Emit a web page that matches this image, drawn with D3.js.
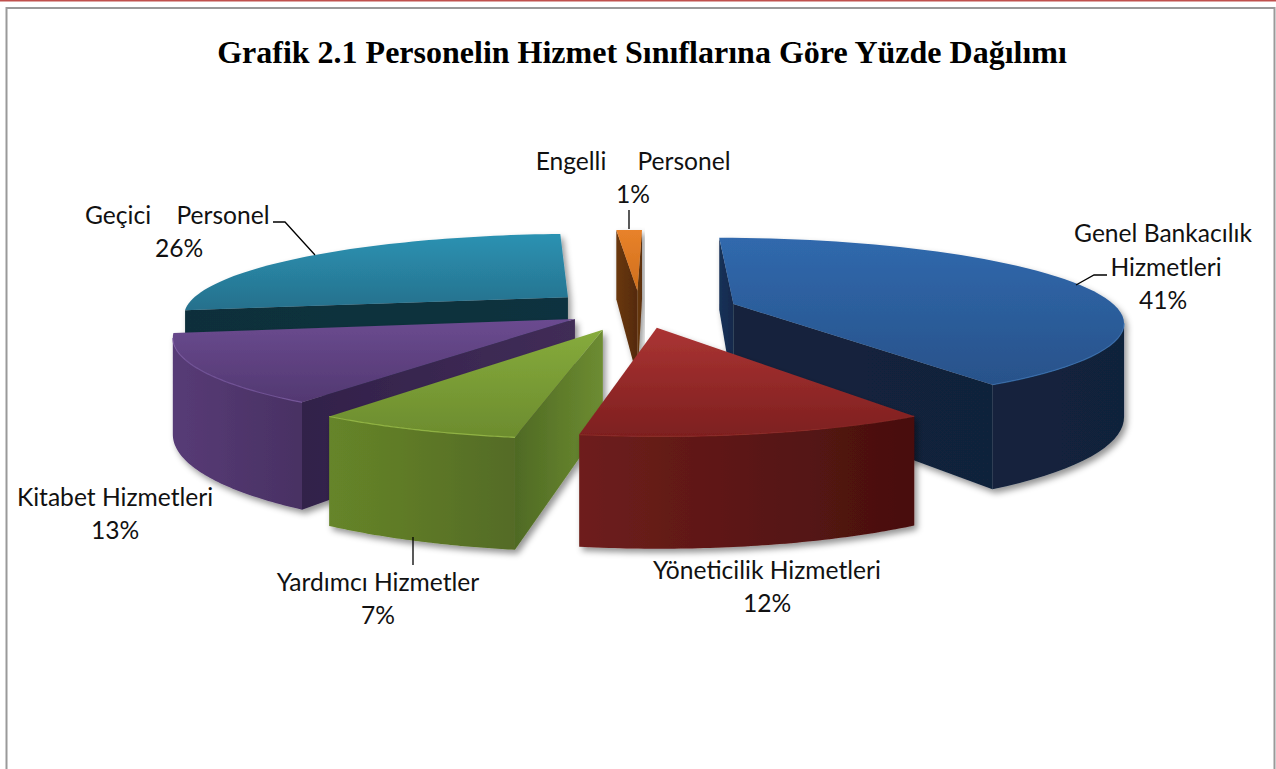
<!DOCTYPE html>
<html><head><meta charset="utf-8">
<script src="https://cdn.jsdelivr.net/npm/d3@7/dist/d3.min.js"></script>
<style>html,body{margin:0;padding:0;background:#fff;overflow:hidden}svg{display:block}</style>
</head><body>
<svg id="c" width="1276" height="769"></svg>
<script>
const titleText = "Grafik 2.1 Personelin Hizmet Sınıflarına Göre Yüzde Dağılımı";
const categories = ["Genel Bankacılık Hizmetleri","Yöneticilik Hizmetleri","Yardımcı Hizmetler","Kitabet Hizmetleri","Geçici Personel","Engelli Personel"];
const values = [40.5,12.0,7.1,12.7,26.3,1.4];
const explosions = [0.25,0.2,0.235,0.19,0.24,0.23];
const topColors  = [["#3069ad","#28528a"],["#ab3433","#7d1f1f"],["#86ab3c","#6c8c2e"],["#6b4b90","#523871"],["#2b92b2","#26708c"],["#e8822a","#d06f1c"]];
const rimColors  = [["#13243e","#11223a"],["#6e1e1c","#480f0e"],["#668529","#546b25"],["#573b76","#493163"],["#103340","#0f2e39"],["#6a3a10","#5a2e0b"]];
const sideColors = [["#173158","#142a4c"],["#5a1614","#4a100f"],["#4f6a24","#6d8c31"],["#32214a","#412d57"],["#0f2f3a","#11323f"],["#6a380f","#552a08"]];
const rimLight   = ["#3a70b0","#8c2826","#9cc04a","#7a5aa0","#35a0c0","#e8822a"];
const pct = values.map(v=>v.toFixed(0)+"%");
const labelLines = [
  [["Genel Bankacılık",1163,242],["Hizmetleri",1166,276],[pct[0],1163,309]],
  [["Yöneticilik Hizmetleri",767,579],[pct[1],767,612]],
  [["Yardımcı Hizmetler",378,591],[pct[2],378,624]],
  [["Kitabet Hizmetleri",115,506],[pct[3],115,539]],
  [["Geçici",118,224],["Personel",223,224],[pct[4],179,257]],
  [["Engelli",571,170],["Personel",684,170],[pct[5],633,203]]
];
const leaders = [
  [[1076,285],[1094,275],[1107,275]],
  [[273,222],[285,222],[315,255]],
  [[413,537],[413,565]],
  [[629,210],[629,229]]
];

const W = 1276, H = 769;
const svg = d3.select("#c");
const defs = svg.append("defs");
const f = defs.append("filter").attr("id","sh").attr("x","-10%").attr("y","-10%").attr("width","120%").attr("height","125%");
f.append("feDropShadow").attr("dx",3).attr("dy",4).attr("stdDeviation",3).attr("flood-color","#000").attr("flood-opacity",0.42);

function grad(id, stops, horizontal){
  const g = defs.append("linearGradient").attr("id",id).attr("x1",0).attr("y1",0)
    .attr("x2",horizontal?1:0).attr("y2",horizontal?0:1);
  g.append("stop").attr("offset","0%").attr("stop-color",stops[0]);
  g.append("stop").attr("offset","100%").attr("stop-color",stops[1]);
  return `url(#${id})`;
}

// page frame
svg.append("rect").attr("x",0).attr("y",0).attr("width",W).attr("height",1.5).attr("fill","#c0504d");
svg.append("path").attr("d",`M6.5,${H} V8 H1274.5 V${H}`).attr("fill","none").attr("stroke","#9a9a9a").attr("stroke-width",2);

svg.append("text").attr("x",642).attr("y",63).attr("text-anchor","middle")
  .attr("font-family","'Liberation Serif',serif").attr("font-weight","bold").attr("font-size",32)
  .attr("fill","#000").text(titleText);

// 3-D projection of the pie plane
const persp = 0.2, radius = 0.975;
const sx = d3.scaleLinear().domain([0,1]).range([640,640+395]);
const sy = d3.scaleLinear().domain([0,1]).range([310,310+87.5]);
const depth = 91;
function project(x, n, z){
  const s = 1 + persp*n;
  return [sx(x*s), sy(n*s) + depth*z*s];
}
const rot = 0.8*Math.PI/180;
const arcs = d3.pie().sort(null).value(d=>d).startAngle(rot).endAngle(2*Math.PI+rot)(values);
const line = d3.line();
const closed = pts => line(pts)+"Z";

const slices = arcs.map((a,i)=>{
  const mid = (a.startAngle+a.endAngle)/2;
  const ox = explosions[i]*Math.sin(mid), on = -explosions[i]*Math.cos(mid);
  const rim = z => d3.range(0,61).map(k=>{
    const t = a.startAngle+(a.endAngle-a.startAngle)*k/60;
    return project(ox+radius*Math.sin(t), on-radius*Math.cos(t), z);
  });
  return {i, mid, ox, on, rim};
}).sort((p,q)=>(-Math.cos(p.mid))-(-Math.cos(q.mid)));

slices.forEach(sl=>{
  const i = sl.i;
  const g = svg.append("g").attr("filter","url(#sh)");
  const top = sl.rim(0), bot = sl.rim(1);
  const a0 = project(sl.ox, sl.on, 0), a1 = project(sl.ox, sl.on, 1);
  const fillTop = grad("t"+i, topColors[i]);
  const fillRim = grad("r"+i, rimColors[i], true);
  const fillEnd = grad("e"+i, rimColors[i], true);
  const fillSide = grad("s"+i, sideColors[i], true);
  const last = top.length-1;
  const wallA = [a0, top[0], bot[0], a1];
  const wallB = [a0, top[last], bot[last], a1];
  if (d3.polygonArea(wallA) > 0) g.append("path").attr("d",closed(wallA)).attr("fill",fillSide);
  if (d3.polygonArea(wallB) < 0) g.append("path").attr("d",closed(wallB)).attr("fill",fillEnd);
  // outer wall: only the stretch of the rim that faces the viewer
  const facing = d3.range(0,last).filter(k=>d3.polygonArea([top[k],top[k+1],bot[k+1],bot[k]])>0);
  if (facing.length){
    const k0 = d3.min(facing), k1 = d3.max(facing)+1;
    const t = top.slice(k0,k1+1), b = bot.slice(k0,k1+1).reverse();
    g.append("path").attr("d",closed(t.concat(b))).attr("fill",fillRim);
  }
  g.append("path").attr("d",closed([a0].concat(top))).attr("fill",fillTop);
  g.append("path").attr("d",line(top.slice(facing.length?d3.min(facing):0, facing.length?d3.max(facing)+2:1))).attr("fill","none").attr("stroke",rimLight[i]).attr("stroke-width",1.2).attr("stroke-opacity",0.8);
});

// leader lines
leaders.forEach(p=>{
  svg.append("path").attr("d",line(p)).attr("fill","none").attr("stroke","#000").attr("stroke-width",1.3);
});

// labels
labelLines.forEach(ls=>ls.forEach(([t,x,y])=>{
  svg.append("text").attr("x",x).attr("y",y).attr("text-anchor","middle")
    .attr("font-family","Lato,'Open Sans',sans-serif").attr("font-size",24.6).attr("fill","#111").text(t);
}));
</script>
</body></html>
